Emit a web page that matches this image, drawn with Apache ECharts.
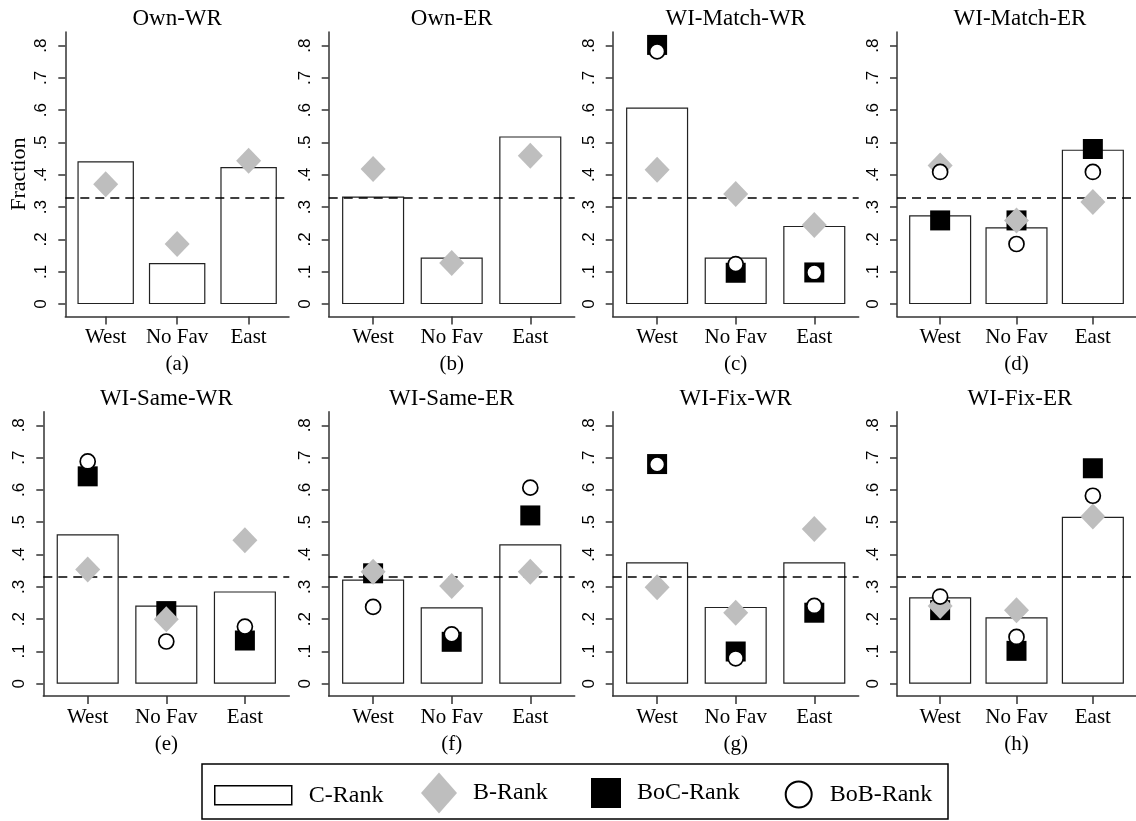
<!DOCTYPE html>
<html>
<head>
<meta charset="utf-8">
<script src="https://cdn.jsdelivr.net/npm/echarts@6/dist/echarts.min.js"></script>
<style>html,body{margin:0;padding:0;background:#fff;}#c{width:1136px;height:821px;}</style>
</head>
<body>
<div id="c"></div>
<script>
// ---------- data ----------
const categories = ['West', 'No Fav', 'East'];
const panelTitles = ['Own-WR', 'Own-ER', 'WI-Match-WR', 'WI-Match-ER', 'WI-Same-WR', 'WI-Same-ER', 'WI-Fix-WR', 'WI-Fix-ER'];
const panelLabels = ['(a)', '(b)', '(c)', '(d)', '(e)', '(f)', '(g)', '(h)'];
const yTickValues = [0, 0.1, 0.2, 0.3, 0.4, 0.5, 0.6, 0.7, 0.8];
const chanceLevel = 1 / 3;
const cRank = [
  [0.442, 0.127, 0.424],
  [0.333, 0.144, 0.519],
  [0.608, 0.144, 0.242],
  [0.275, 0.238, 0.478],
  [0.463, 0.242, 0.286],
  [0.323, 0.237, 0.432],
  [0.376, 0.238, 0.376],
  [0.268, 0.206, 0.517]
];
const bRank = [
  [0.371, 0.186, 0.444],
  [0.418, 0.127, 0.459],
  [0.416, 0.341, 0.245],
  [0.429, 0.259, 0.316],
  [0.354, 0.200, 0.444],
  [0.347, 0.303, 0.347],
  [0.299, 0.220, 0.479],
  [0.241, 0.228, 0.518]
];
const bocRank = [
  null,
  null,
  [0.802, 0.097, 0.098],
  [0.259, 0.259, 0.480],
  [0.642, 0.225, 0.134],
  [0.342, 0.130, 0.521],
  [0.680, 0.100, 0.220],
  [0.228, 0.102, 0.667]
];
const bobRank = [
  null,
  null,
  [0.782, 0.124, 0.098],
  [0.409, 0.186, 0.409],
  [0.688, 0.131, 0.177],
  [0.238, 0.153, 0.607],
  [0.679, 0.079, 0.241],
  [0.270, 0.145, 0.582]
];

// ---------- layout ----------
const serif = '"Liberation Serif", "Times New Roman", Times, serif';
const sans = '"Liberation Sans", Arial, Helvetica, sans-serif';
const panelLeft = [65.3, 328.7, 612.7, 897, 43.3, 328.7, 612.7, 897];
const panelWidth = [223.7, 246, 246, 246, 246, 246, 246, 246];
const panelTop = [32, 32, 32, 32, 411.7, 411.7, 411.7, 411.7];
const panelHeight = 284.4;
const xMin = -0.565, xMax = 2.565;
const yMin = -0.038, yMax = 0.842;
const axisColor = '#333';

const toPts = arr => (arr ? arr.map((v, j) => [j, v]) : []);

const grids = [], xAxes = [], yAxes = [], series = [], titles = [];
for (let i = 0; i < 8; i++) {
  grids.push({ left: panelLeft[i], top: panelTop[i], width: panelWidth[i], height: panelHeight, containLabel: false });
  const spacing = panelWidth[i] / (xMax - xMin);
  xAxes.push({
    gridIndex: i, type: 'value', min: xMin, max: xMax,
    name: panelLabels[i], nameLocation: 'middle', nameGap: 38,
    nameTextStyle: { fontFamily: serif, fontSize: 21, color: '#000' },
    axisLine: { show: true, onZero: false, lineStyle: { color: axisColor, width: 1.5 } },
    axisTick: { show: true, length: 8, customValues: [0, 1, 2], lineStyle: { color: axisColor, width: 1.5 } },
    axisLabel: { show: true, customValues: [0, 1, 2], margin: 11, fontFamily: serif, fontSize: 21, color: '#000',
      formatter: v => categories[Math.round(v)] },
    splitLine: { show: false }
  });
  yAxes.push({
    gridIndex: i, type: 'value', min: yMin, max: yMax,
    name: i === 0 ? 'Fraction' : '', nameLocation: 'middle', nameGap: 35, nameRotate: 90,
    nameTextStyle: { fontFamily: serif, fontSize: 22, color: '#000' },
    axisLine: { show: true, onZero: false, lineStyle: { color: axisColor, width: 1.5 } },
    axisTick: { show: true, length: 7, customValues: yTickValues, lineStyle: { color: axisColor, width: 1.5 } },
    axisLabel: { show: true, customValues: yTickValues, rotate: 90, margin: 15, align: 'center', verticalAlign: 'bottom',
      fontFamily: sans, fontSize: 17, color: '#000',
      formatter: v => (Math.abs(v) < 1e-9 ? '0' : '.' + Math.round(v * 10)) },
    splitLine: { show: false }
  });
  titles.push({
    text: panelTitles[i], left: panelLeft[i] + panelWidth[i] / 2, top: panelTop[i] - 24.5, textAlign: 'center', padding: 0,
    textStyle: { fontFamily: serif, fontSize: 23, fontWeight: 'normal', color: '#000' }
  });
  series.push({
    type: 'bar', name: 'C-Rank', xAxisIndex: i, yAxisIndex: i, data: toPts(cRank[i]),
    barWidth: 0.79 * spacing, z: 2, silent: true,
    itemStyle: { color: '#fff', borderColor: '#222', borderWidth: 1.2 },
    markLine: {
      silent: true, symbol: 'none', label: { show: false }, animation: false,
      lineStyle: { type: [9, 6], color: '#000', width: 1.5 },
      data: [{ yAxis: chanceLevel }]
    }
  });
  series.push({
    type: 'scatter', name: 'BoC-Rank', xAxisIndex: i, yAxisIndex: i, data: toPts(bocRank[i]),
    symbol: 'rect', symbolSize: 20, z: 6, silent: true,
    itemStyle: { color: '#000', opacity: 1 }
  });
  series.push({
    type: 'scatter', name: 'B-Rank', xAxisIndex: i, yAxisIndex: i, data: toPts(bRank[i]),
    symbol: 'diamond', symbolSize: [25, 26], z: 7, silent: true,
    itemStyle: { color: '#bebebe', opacity: 1 }
  });
  series.push({
    type: 'scatter', name: 'BoB-Rank', xAxisIndex: i, yAxisIndex: i, data: toPts(bobRank[i]),
    symbol: 'circle', symbolSize: 15, z: 8, silent: true,
    itemStyle: { color: '#fff', borderColor: '#000', borderWidth: 1.7, opacity: 1 }
  });
}

const legendText = { fontFamily: serif, fontSize: 24, color: '#000' };
const legends = [
  { name: 'C-Rank', icon: 'rect', left: 214, top: 783.3, w: 77, h: 19, pad: 12,
    style: { color: '#fff', borderColor: '#000', borderWidth: 1.5, opacity: 1 } },
  { name: 'B-Rank', icon: 'diamond', left: 421, top: 772.5, w: 36, h: 41, pad: 11,
    style: { color: '#bebebe', borderWidth: 0, opacity: 1 } },
  { name: 'BoC-Rank', icon: 'rect', left: 591, top: 778, w: 30, h: 30, pad: 11,
    style: { color: '#000', borderWidth: 0, opacity: 1 } },
  { name: 'BoB-Rank', icon: 'circle', left: 784.7, top: 780.5, w: 26, h: 26, pad: 13,
    style: { color: '#fff', borderColor: '#000', borderWidth: 2, opacity: 1 } }
].map(l => ({
  data: [{ name: l.name, icon: l.icon }], left: l.left, top: l.top, padding: 0,
  itemWidth: l.w, itemHeight: l.h, selectedMode: false, itemStyle: l.style,
  textStyle: Object.assign({ padding: [0, 0, 0, l.pad] }, legendText)
}));

const chart = echarts.init(document.getElementById('c'), null, { renderer: 'canvas' });
chart.setOption({
  animation: false,
  backgroundColor: '#fff',
  title: titles,
  grid: grids,
  xAxis: xAxes,
  yAxis: yAxes,
  legend: legends,
  graphic: [{
    type: 'rect', silent: true, z: 0,
    shape: { x: 202, y: 764, width: 746, height: 55 },
    style: { fill: 'none', stroke: '#000', lineWidth: 1.5 }
  }],
  series: series
});
</script>
</body>
</html>
